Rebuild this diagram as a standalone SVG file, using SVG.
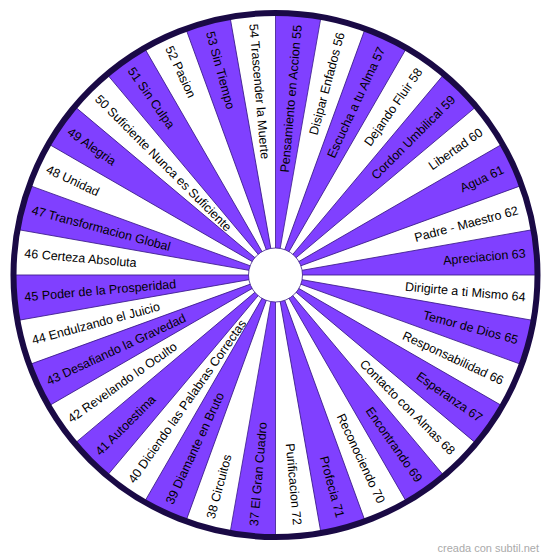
<svg xmlns="http://www.w3.org/2000/svg" xmlns:xlink="http://www.w3.org/1999/xlink" width="550" height="558" viewBox="0 0 550 558">
<style>
.w{fill:#8040ff;stroke:#3a1a8a;stroke-width:0.8}
.l{font-family:"Liberation Sans",Arial,sans-serif;font-size:12.5px;fill:#000;text-anchor:start}
.r{font-family:"Liberation Sans",Arial,sans-serif;font-size:12.5px;fill:#000;text-anchor:end}
</style>
<defs>
<path id="wedge" class="w" d="M0,0 L0,-262 A262,262 0 0 1 45.5,-258.02 Z"/>
</defs>
<rect width="550" height="558" fill="#fff"/>
<g transform="translate(275.5,275)">
<circle r="262" fill="#fff"/>
<g id="s37"><use xlink:href="#wedge" transform="rotate(180)"/><text class="l" transform="rotate(-85)" x="-252" dy="0.35em">37 El Gran Cuadro</text></g>
<g id="s38"><text class="l" transform="rotate(-75)" x="-252" dy="0.35em">38 Circuitos</text></g>
<g id="s39"><use xlink:href="#wedge" transform="rotate(200)"/><text class="l" transform="rotate(-65)" x="-252" dy="0.35em">39 Diamante en Bruto</text></g>
<g id="s40"><text class="l" transform="rotate(-55)" x="-252" dy="0.35em">40 Diciendo las Palabras Correctas</text></g>
<g id="s41"><use xlink:href="#wedge" transform="rotate(220)"/><text class="l" transform="rotate(-45)" x="-252" dy="0.35em">41 Autoestima</text></g>
<g id="s42"><text class="l" transform="rotate(-35)" x="-252" dy="0.35em">42 Revelando lo Oculto</text></g>
<g id="s43"><use xlink:href="#wedge" transform="rotate(240)"/><text class="l" transform="rotate(-25)" x="-252" dy="0.35em">43 Desafiando la Gravedad</text></g>
<g id="s44"><text class="l" transform="rotate(-15)" x="-252" dy="0.35em">44 Endulzando el Juicio</text></g>
<g id="s45"><use xlink:href="#wedge" transform="rotate(260)"/><text class="l" transform="rotate(-5)" x="-252" dy="0.35em">45 Poder de la Prosperidad</text></g>
<g id="s46"><text class="l" transform="rotate(5)" x="-252" dy="0.35em">46 Certeza Absoluta</text></g>
<g id="s47"><use xlink:href="#wedge" transform="rotate(280)"/><text class="l" transform="rotate(15)" x="-252" dy="0.35em">47 Transformacion Global</text></g>
<g id="s48"><text class="l" transform="rotate(25)" x="-252" dy="0.35em">48 Unidad</text></g>
<g id="s49"><use xlink:href="#wedge" transform="rotate(300)"/><text class="l" transform="rotate(35)" x="-252" dy="0.35em">49 Alegria</text></g>
<g id="s50"><text class="l" transform="rotate(45)" x="-252" dy="0.35em">50 Suficiente Nunca es Suficiente</text></g>
<g id="s51"><use xlink:href="#wedge" transform="rotate(320)"/><text class="l" transform="rotate(55)" x="-252" dy="0.35em">51 Sin Culpa</text></g>
<g id="s52"><text class="l" transform="rotate(65)" x="-252" dy="0.35em">52 Pasion</text></g>
<g id="s53"><use xlink:href="#wedge" transform="rotate(340)"/><text class="l" transform="rotate(75)" x="-252" dy="0.35em">53 Sin Tiempo</text></g>
<g id="s54"><text class="l" transform="rotate(85)" x="-252" dy="0.35em">54 Trascender la Muerte</text></g>
<g id="s55"><use xlink:href="#wedge" transform="rotate(0)"/><text class="r" transform="rotate(-85)" x="251" dy="0.35em">Pensamiento en Accion 55</text></g>
<g id="s56"><text class="r" transform="rotate(-75)" x="251" dy="0.35em">Disipar Enfados 56</text></g>
<g id="s57"><use xlink:href="#wedge" transform="rotate(20)"/><text class="r" transform="rotate(-65)" x="251" dy="0.35em">Escucha a tu Alma 57</text></g>
<g id="s58"><text class="r" transform="rotate(-55)" x="251" dy="0.35em">Dejando Fluir 58</text></g>
<g id="s59"><use xlink:href="#wedge" transform="rotate(40)"/><text class="r" transform="rotate(-45)" x="251" dy="0.35em">Cordon Umbilical 59</text></g>
<g id="s60"><text class="r" transform="rotate(-35)" x="251" dy="0.35em">Libertad 60</text></g>
<g id="s61"><use xlink:href="#wedge" transform="rotate(60)"/><text class="r" transform="rotate(-25)" x="251" dy="0.35em">Agua 61</text></g>
<g id="s62"><text class="r" transform="rotate(-15)" x="251" dy="0.35em">Padre - Maestro 62</text></g>
<g id="s63"><use xlink:href="#wedge" transform="rotate(80)"/><text class="r" transform="rotate(-5)" x="251" dy="0.35em">Apreciacion 63</text></g>
<g id="s64"><text class="r" transform="rotate(5)" x="251" dy="0.35em">Dirigirte a ti Mismo 64</text></g>
<g id="s65"><use xlink:href="#wedge" transform="rotate(100)"/><text class="r" transform="rotate(15)" x="251" dy="0.35em">Temor de Dios 65</text></g>
<g id="s66"><text class="r" transform="rotate(25)" x="251" dy="0.35em">Responsabilidad 66</text></g>
<g id="s67"><use xlink:href="#wedge" transform="rotate(120)"/><text class="r" transform="rotate(35)" x="251" dy="0.35em">Esperanza 67</text></g>
<g id="s68"><text class="r" transform="rotate(45)" x="251" dy="0.35em">Contacto con Almas 68</text></g>
<g id="s69"><use xlink:href="#wedge" transform="rotate(140)"/><text class="r" transform="rotate(55)" x="251" dy="0.35em">Encontrando 69</text></g>
<g id="s70"><text class="r" transform="rotate(65)" x="251" dy="0.35em">Reconociendo 70</text></g>
<g id="s71"><use xlink:href="#wedge" transform="rotate(160)"/><text class="r" transform="rotate(75)" x="251" dy="0.35em">Profecia 71</text></g>
<g id="s72"><text class="r" transform="rotate(85)" x="251" dy="0.35em">Purificacion 72</text></g>
<circle id="hub" r="27" fill="#fff" stroke="#3a1a8a" stroke-width="0.8"/>
<circle id="rim" r="262" fill="none" stroke="#1a0a45" stroke-width="6"/>
</g>
<text x="539" y="552" font-family="'Liberation Sans',Arial,sans-serif" font-size="11" fill="#aaaaaa" text-anchor="end">creada con subtil.net</text>
</svg>
